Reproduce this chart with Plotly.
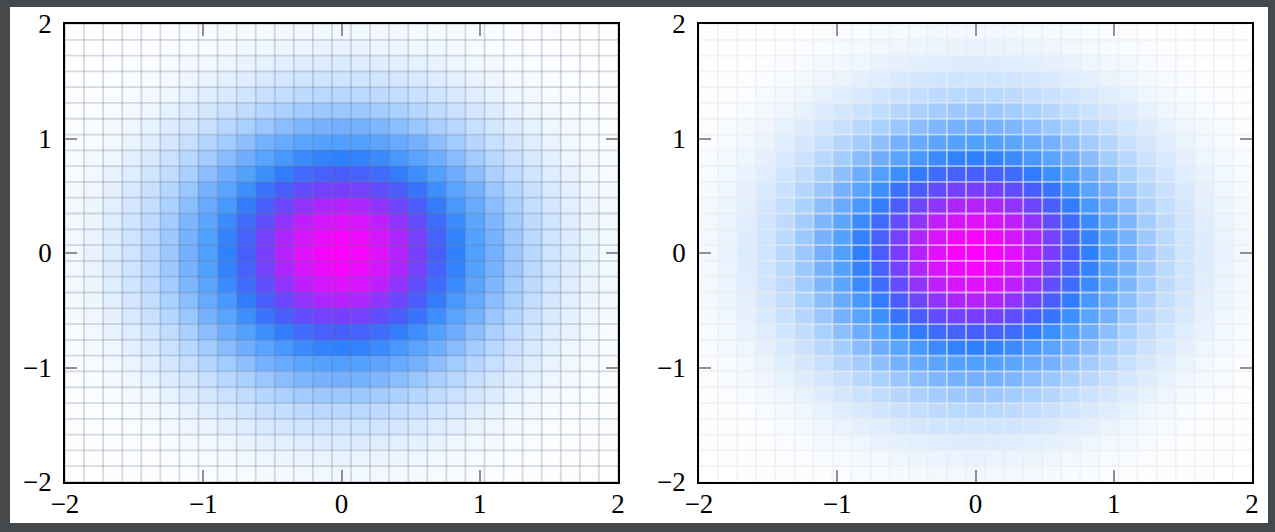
import plotly.graph_objects as go

# Cell values, centre cell outwards (the surface is mirror-symmetric on both axes)
quadrant = [
    [.990,.971,.918,.836,.733,.619,.502,.394,.297,.215,.150,.101,.066,.041,.025],
    [.971,.953,.901,.820,.719,.607,.493,.386,.291,.211,.147,.100,.064,.040,.024],
    [.918,.901,.852,.775,.680,.574,.466,.366,.275,.199,.139,.094,.061,.038,.023],
    [.836,.820,.775,.706,.619,.522,.424,.333,.250,.181,.127,.086,.055,.034,.021],
    [.733,.719,.680,.619,.543,.458,.372,.292,.220,.159,.111,.075,.049,.030,.018],
    [.619,.607,.574,.522,.458,.387,.314,.246,.185,.134,.094,.063,.041,.026,.016],
    [.502,.493,.466,.424,.372,.314,.255,.200,.150,.109,.076,.052,.033,.021,.013],
    [.394,.386,.366,.333,.292,.246,.200,.157,.118,.086,.060,.040,.026,.016,.010],
    [.297,.291,.275,.250,.220,.185,.150,.118,.089,.064,.045,.030,.020,.012,.007],
    [.215,.211,.199,.181,.159,.134,.109,.086,.064,.047,.033,.022,.014,.009,.005],
    [.150,.147,.139,.127,.111,.094,.076,.060,.045,.033,.023,.015,.010,.006,.004],
    [.101,.100,.094,.086,.075,.063,.052,.040,.030,.022,.015,.010,.007,.004,.003],
    [.066,.064,.061,.055,.049,.041,.033,.026,.020,.014,.010,.007,.004,.003,.002],
    [.041,.040,.038,.034,.030,.026,.021,.016,.012,.009,.006,.004,.003,.002,.001],
    [.025,.024,.023,.021,.018,.016,.013,.010,.007,.005,.004,.003,.002,.001,.001],
]
tick_vals = [-2, -1, 0, 1, 2]
n_cells = 29
edges = [-2 + 4 * i / n_cells for i in range(n_cells + 1)]

half = [r[:0:-1] + r for r in quadrant]
z = half[:0:-1] + half

colorscale = [
    [0, "#ffffff"], [.067, "#dcecff"], [.152, "#b9d8ff"], [.218, "#9cc8ff"], [.30, "#74b0ff"],
    [.40, "#50a0ff"], [.51, "#2f80ff"], [.628, "#4a5cff"], [.744, "#7a3cff"], [.848, "#ba20ff"],
    [.93, "#e010ff"], [1, "#ff00ff"],
]
FONT = dict(family="Liberation Serif", size=27, color="#000000")

def mesh_xy():
    xs, ys = [], []
    for e in edges:
        xs += [e, e, None]; ys += [-2, 2, None]
        xs += [-2, 2, None]; ys += [e, e, None]
    return xs, ys

fig = go.Figure()
mx, my = mesh_xy()
for i, (color, xa, ya) in enumerate([
    ("rgba(110,120,135,0.27)", "x", "y"),
    ("rgba(236,236,236,0.62)", "x2", "y2"),
]):
    fig.add_trace(go.Heatmap(x=edges, y=edges, z=z, zmin=0, zmax=.99, colorscale=colorscale,
                             showscale=False, hoverinfo="skip", xaxis=xa, yaxis=ya))
    fig.add_trace(go.Scatter(x=mx, y=my, mode="lines", line=dict(color=color, width=1.8),
                             hoverinfo="skip", showlegend=False, xaxis=xa, yaxis=ya))

W, H = 1275, 532
axis = dict(range=[-2, 2], tickmode="array", tickvals=tick_vals, ticks="inside", ticklen=12,
            tickwidth=1.5, tickcolor="#909090", showline=True, linecolor="#000000", linewidth=1.5,
            mirror="ticks", showgrid=False, zeroline=False, tickfont=FONT, automargin=False)
yd = [1 - 482 / H, 1 - 24 / H]
fig.update_layout(
    width=W, height=H, margin=dict(l=0, r=0, t=0, b=0), autosize=False,
    paper_bgcolor="#45494c", plot_bgcolor="#ffffff", showlegend=False,
    xaxis=dict(axis, domain=[65 / W, 618 / W], anchor="y", ticklabelstandoff=-3),
    yaxis=dict(axis, domain=yd, anchor="x", ticklabelstandoff=6),
    xaxis2=dict(axis, domain=[699 / W, 1252 / W], anchor="y2", ticklabelstandoff=-3),
    yaxis2=dict(axis, domain=yd, anchor="x2", ticklabelstandoff=6),
    shapes=[dict(type="rect", xref="paper", yref="paper", x0=10 / W, x1=1268 / W,
                 y0=1 - 523 / H, y1=1 - 7 / H, fillcolor="#ffffff", line_width=0, layer="below")],
)
fig.write_html("out.html", config={"displayModeBar": False},
               post_script="document.body.style.margin='0';document.body.style.overflow='hidden';")
